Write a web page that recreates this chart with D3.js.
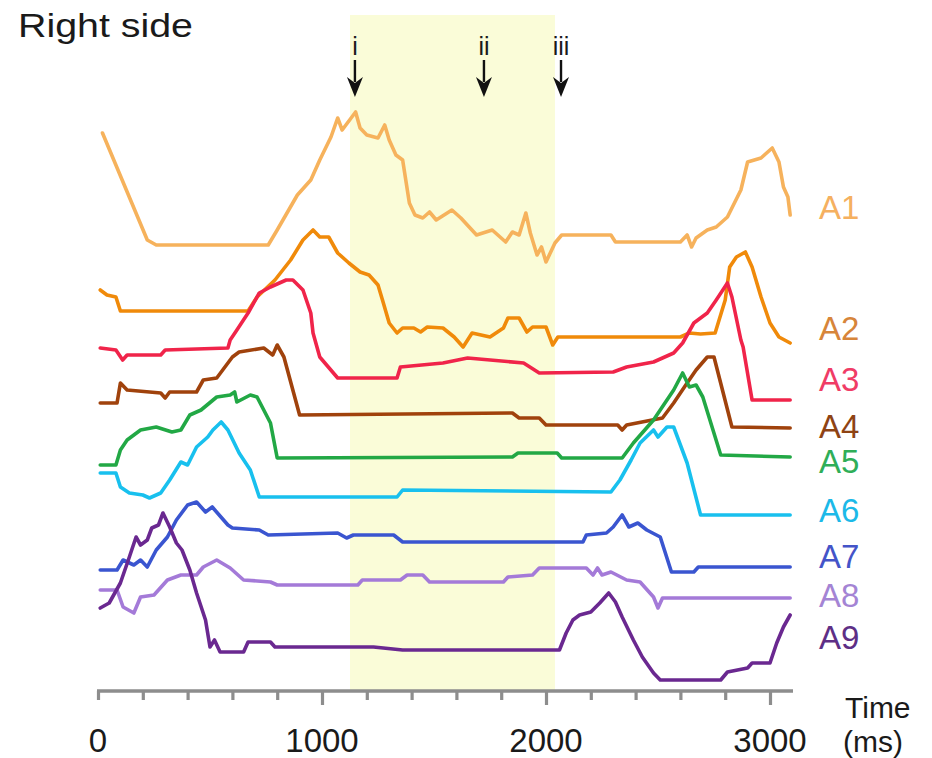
<!DOCTYPE html>
<html><head><meta charset="utf-8">
<script src="https://cdn.jsdelivr.net/npm/d3@7"></script>
<style>body{margin:0;background:#fff;}svg{display:block;}</style>
</head><body><svg id="c" width="932" height="758"></svg>
<script>
// ---- data (time in ms, amplitude in arbitrary units above each trace's baseline) ----
const channels = ["A1","A2","A3","A4","A5","A6","A7","A8","A9"];
const offsets  = [445, 343, 290, 260, 225, 175, 118, 77, 10];
const labelLevels = [483, 362, 311, 264, 229, 180, 134, 95, 53];
const colors   = ["#f6b25c","#f08a0a","#f0244a","#a0420c","#22a845","#18c0ee","#3a55d0","#a47ad8","#6a2890"];
const labelColors = ["#f5b060","#d7853a","#f03c66","#8e4314","#2fae58","#1cb9e8","#4454c8","#a484d4","#5e2f86"];

const A1 = [[20,112],[220,5],[260,0],[760,0],[800,15],[890,50],[950,65],[990,85],[1040,108],[1070,127],[1090,115],[1150,133],[1170,117],[1200,110],[1250,107],[1280,120],[1300,105],[1330,90],[1360,85],[1390,42],[1415,30],[1450,27],[1480,33],[1510,25],[1580,35],[1620,27],[1690,10],[1760,15],[1820,3],[1850,13],[1880,10],[1910,32],[1930,12],[1960,-10],[1980,-2],[2000,-17],[2040,2],[2070,10],[2290,10],[2310,3],[2600,3],[2630,10],[2650,-2],[2670,7],[2720,15],[2760,18],[2810,28],[2870,55],[2900,83],[2960,87],[3010,97],[3040,83],[3060,58],[3080,48],[3090,30]];
const A2 = [[10,57],[40,52],[80,50],[100,36],[670,36],[710,50],[790,67],[860,87],[915,107],[960,117],[990,110],[1030,110],[1070,94],[1120,84],[1170,75],[1210,72],[1250,62],[1270,47],[1300,24],[1335,14],[1360,19],[1410,19],[1440,15],[1470,20],[1540,19],[1590,10],[1630,0],[1670,14],[1750,10],[1810,19],[1830,29],[1880,29],[1915,15],[1940,20],[2000,20],[2030,2],[2053,10],[2600,10],[2640,14],[2690,13],[2755,14],[2800,47],[2820,80],[2850,90],[2890,95],[2920,80],[2960,50],[3000,24],[3040,10],[3090,4]];
const A3 = [[10,52],[80,50],[110,40],[130,45],[280,45],[300,50],[580,52],[590,60],[620,70],[670,87],[720,107],[770,113],[840,120],[870,120],[915,110],[950,87],[960,67],[990,43],[1070,22],[1335,22],[1350,33],[1540,37],[1650,42],[1900,37],[1970,27],[2300,28],[2360,33],[2480,38],[2570,47],[2610,57],[2660,77],[2720,87],[2760,100],[2810,117],[2830,103],[2870,60],[2880,53],[2920,0],[3090,0]];
const A4 = [[10,27],[85,27],[100,47],[130,40],[280,37],[300,32],[320,38],[440,38],[470,50],[530,52],[580,67],[600,73],[630,78],[740,82],[780,75],[800,85],[830,73],[900,15],[1850,17],[1880,12],[1970,12],[2000,5],[2320,5],[2340,0],[2360,5],[2520,12],[2570,27],[2630,47],[2670,60],[2720,73],[2750,73],[2830,3],[3090,2]];
const A5 = [[10,0],[80,0],[100,15],[130,25],[190,35],[260,38],[330,33],[370,35],[410,50],[460,55],[530,68],[590,70],[610,73],[620,63],[680,70],[710,68],[770,42],[800,7],[1850,8],[1875,12],[2050,12],[2070,7],[2340,7],[2390,22],[2480,45],[2570,75],[2610,92],[2640,78],[2670,80],[2700,68],[2780,10],[3090,8]];
const A6 = [[10,42],[80,42],[100,28],[140,22],[200,20],[230,17],[280,22],[320,35],[370,53],[400,50],[440,68],[490,78],[513,85],[550,93],[580,85],[630,62],[680,45],[720,18],[1335,18],[1360,25],[2290,23],[2330,35],[2380,55],[2420,72],[2480,85],[2500,78],[2540,88],[2570,88],[2630,52],[2690,0],[3090,0]];
const A7 = [[10,2],[85,2],[112,12],[160,7],[190,12],[220,5],[260,22],[310,35],[350,52],[400,67],[440,70],[480,60],[510,65],[580,47],[600,44],[720,42],[760,37],[1070,39],[1110,34],[1140,37],[1320,37],[1360,30],[2165,30],[2180,37],[2270,39],[2300,45],[2340,57],[2370,45],[2410,49],[2450,42],[2510,35],[2560,0],[2660,0],[2680,5],[3090,5]];
const A8 = [[10,23],[85,23],[112,6],[160,0],[190,16],[250,18],[310,33],[370,38],[440,38],[470,46],[530,53],[590,45],[650,33],[770,31],[800,28],[1160,28],[1180,33],[1350,33],[1380,38],[1450,38],[1480,31],[1810,31],[1830,36],[1940,38],[1970,45],[2180,45],[2210,38],[2230,45],[2250,38],[2290,41],[2360,33],[2420,31],[2480,16],[2500,5],[2520,15],[3090,15]];
const A9 = [[10,72],[50,77],[100,97],[140,123],[170,143],[190,135],[220,140],[240,152],[270,155],[290,167],[320,153],[350,137],[375,130],[410,110],[440,87],[480,60],[500,33],[520,40],[545,28],[650,28],[670,38],[770,38],[790,33],[1230,33],[1360,30],[2060,30],[2090,47],[2120,60],[2150,65],[2200,68],[2240,77],[2280,87],[2310,78],[2340,63],[2390,40],[2430,23],[2480,7],[2510,0],[2780,0],[2810,8],[2900,12],[2920,17],[3000,17],[3030,37],[3060,53],[3090,65]];
const series = [A1,A2,A3,A4,A5,A6,A7,A8,A9];

const bandRange = [1125, 2040];
const markerTimes = [1147, 1723, 2067];
const markerLabels = ["i","ii","iii"];
const minorTicks = [0,200,400,600,800,1200,1400,1600,1800,2200,2400,2600,2800];
const majorTicks = [1000,2000,3000];
const tickLabels = [0,1000,2000,3000];

// ---- layout ----
const svg = d3.select("#c");
const x = d3.scaleLinear().domain([0, 3100]).range([98, 792.4]);
const y = d3.scaleLinear().domain([0, 600]).range([690, 90]);
const font = "'Liberation Sans', Arial, sans-serif";

// highlight band
svg.append("rect")
  .attr("x", x(bandRange[0])).attr("y", 15)
  .attr("width", x(bandRange[1]) - x(bandRange[0])).attr("height", 676)
  .attr("fill", "#fafcd8");

// traces
const line = d3.line().x(d => x(d[0])).y(d => y(d[1]));
series.forEach((s, i) => {
  svg.append("path")
    .datum(s.map(p => [p[0], p[1] + offsets[i]]))
    .attr("d", line)
    .attr("fill", "none")
    .attr("stroke", colors[i])
    .attr("stroke-width", 3.6)
    .attr("stroke-linejoin", "round")
    .attr("stroke-linecap", "round");
});

// channel labels
channels.forEach((c, i) => {
  svg.append("text")
    .attr("x", 819).attr("y", y(labelLevels[i]))
    .attr("dy", "0.36em")
    .attr("font-family", font).attr("font-size", 33)
    .attr("fill", labelColors[i])
    .text(c);
});

// axis
const axisG = svg.append("g").attr("transform", "translate(0,691)");
const axisColor = "#8d8d8d";
axisG.append("line").attr("x1", x(0) - 1).attr("x2", 793).attr("y1", 0).attr("y2", 0)
  .attr("stroke", axisColor).attr("stroke-width", 3.5);
const minorAxis = d3.axisBottom(x).tickValues(minorTicks).tickSize(9).tickFormat("");
const majorAxis = d3.axisBottom(x).tickValues(majorTicks).tickSize(14).tickFormat("");
[minorAxis, majorAxis].forEach(ax => {
  const g = axisG.append("g").call(ax);
  g.select(".domain").remove();
  g.selectAll(".tick line").attr("stroke", axisColor).attr("stroke-width", 3.2);
});
svg.append("g").selectAll("text").data(tickLabels).join("text")
  .attr("x", d => x(d)).attr("y", 752)
  .attr("text-anchor", "middle")
  .attr("font-family", font).attr("font-size", 33).attr("fill", "#1a1a1a")
  .text(d => d);
svg.append("text").attr("x", 845).attr("y", 718)
  .attr("font-family", font).attr("font-size", 30).attr("fill", "#1a1a1a").text("Time");
svg.append("text").attr("x", 843).attr("y", 752)
  .attr("font-family", font).attr("font-size", 30).attr("fill", "#1a1a1a").text("(ms)");

// title
svg.append("text").attr("x", 18).attr("y", 37)
  .attr("font-family", font).attr("font-size", 34).attr("fill", "#1a1a1a")
  .attr("textLength", 175).attr("lengthAdjust", "spacingAndGlyphs")
  .text("Right side");

// markers
markerTimes.forEach((t, i) => {
  const cx = x(t);
  svg.append("text").attr("x", cx).attr("y", 55)
    .attr("text-anchor", "middle")
    .attr("font-family", font).attr("font-size", 25).attr("fill", "#1a1a1a")
    .text(markerLabels[i]);
  svg.append("line").attr("x1", cx).attr("x2", cx).attr("y1", 60).attr("y2", 82)
    .attr("stroke", "#111").attr("stroke-width", 2.4);
  svg.append("path")
    .attr("d", `M${cx},97 L${cx-8},77 L${cx},83 L${cx+8},77 Z`)
    .attr("fill", "#111");
});
</script></body></html>
